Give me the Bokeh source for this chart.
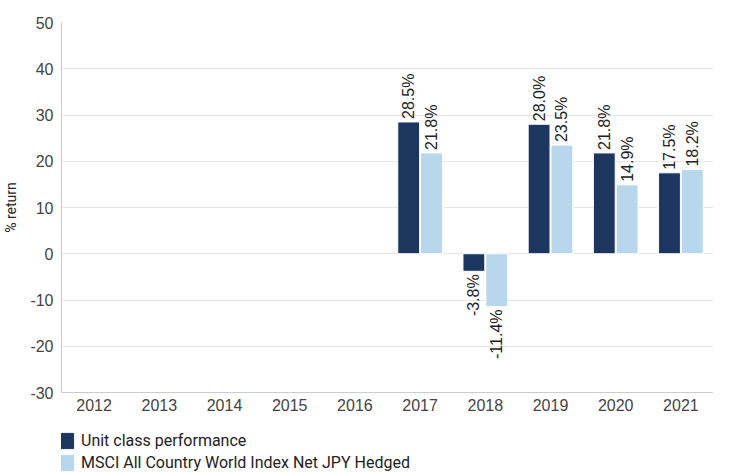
from bokeh.plotting import figure
from bokeh.layouts import column
from bokeh.models import ColumnDataSource, FactorRange, Legend, LegendItem, Range1d, PrintfTickFormatter
from bokeh.core.properties import value
from bokeh.transform import dodge
from bokeh.embed import file_html
from bokeh.resources import INLINE
from math import pi

years = ["2012", "2013", "2014", "2015", "2016", "2017", "2018", "2019", "2020", "2021"]
bar_years = ["2017", "2018", "2019", "2020", "2021"]
unit_class = [28.5, -3.8, 28.0, 21.8, 17.5]
msci = [21.8, -11.4, 23.5, 14.9, 18.2]
series_names = ["Unit class performance", "MSCI All Country World Index Net JPY Hedged"]
colors = ["#1c365f", "#b8d7ec"]
y_ticks = [-30, -20, -10, 0, 10, 20, 30, 40, 50]

def fmt(v):
    return f"{v:.1f}%"

src = ColumnDataSource(dict(year=bar_years, a=unit_class, b=msci))

def split(vals, positive):
    sel = [(y, v) for y, v in zip(bar_years, vals) if (v >= 0) == positive]
    return ColumnDataSource(dict(year=[s[0] for s in sel], v=[s[1] for s in sel],
                                 t=[fmt(s[1]) for s in sel]))

p = figure(x_range=FactorRange(*years), y_range=Range1d(-30, 50),
           width=713, height=426, output_backend="svg", toolbar_location=None,
           min_border_left=59, min_border_right=0, min_border_top=22, min_border_bottom=34)
p.outline_line_color = None
p.background_fill_color = "white"

off = 0.175
w = 0.335
ra = p.vbar(x=dodge("year", -off, range=p.x_range), top="a", bottom=0, width=w,
            source=src, fill_color=colors[0], line_color="white", line_width=1)
rb = p.vbar(x=dodge("year", off, range=p.x_range), top="b", bottom=0, width=w,
            source=src, fill_color=colors[1], line_color="white", line_width=1)

for vals, dx in [(unit_class, -off), (msci, off)]:
    for positive, align, yo in [(True, "left", -3), (False, "right", 3)]:
        p.text(x=dodge("year", dx, range=p.x_range), y="v", text="t", source=split(vals, positive),
               angle=pi / 2, text_align=align, text_baseline="middle",
               y_offset=yo, text_font_size="16px", text_color="#222222",
               text_font=value("Liberation Sans"))

p.xgrid.grid_line_color = None
p.ygrid.grid_line_color = "#e6e6e6"
p.ygrid.ticker = y_ticks
p.yaxis.ticker = y_ticks
p.yaxis.formatter = PrintfTickFormatter(format="%d")

for ax in (p.xaxis, p.yaxis):
    ax.axis_line_color = "#cccccc"
    ax.major_tick_line_color = None
    ax.minor_tick_line_color = None
    ax.major_tick_out = 0
    ax.major_tick_in = 0
    ax.minor_tick_out = 0
    ax.major_label_text_font = "Liberation Sans"
    ax.major_label_text_font_size = "16px"
    ax.major_label_text_color = "#444444"
p.xaxis.major_label_standoff = 6
p.yaxis.major_label_standoff = 8
p.yaxis.axis_label = "% return"
p.yaxis.axis_label_text_font = "Roboto"
p.yaxis.axis_label_text_font_style = "normal"
p.yaxis.axis_label_text_font_size = "14px"
p.yaxis.axis_label_text_color = "#222222"
p.yaxis.axis_label_standoff = 8

# legend figure below the chart
lf = figure(width=713, height=46, output_backend="svg", toolbar_location=None,
            x_range=Range1d(0, 1), y_range=Range1d(0, 1),
            x_axis_location=None, y_axis_location=None,
            min_border_left=0, min_border_right=0, min_border_top=0, min_border_bottom=0)
lf.grid.visible = False
lf.outline_line_color = None
la = lf.vbar(x=[5], top=[5], bottom=[4], width=0.1, fill_color=colors[0], line_color=colors[0])
lb = lf.vbar(x=[5], top=[5], bottom=[4], width=0.1, fill_color=colors[1], line_color=colors[1])
legend = Legend(items=[LegendItem(label=series_names[0], renderers=[la]),
                       LegendItem(label=series_names[1], renderers=[lb])],
                orientation="vertical", location=(-5, 0))
legend.glyph_width = 19
legend.glyph_height = 19
legend.label_height = 19
legend.spacing = 3
legend.padding = 0
legend.margin = 0
legend.label_standoff = 6
legend.label_text_font = "Roboto"
legend.label_text_font_size = "16px"
legend.label_text_color = "#222222"
legend.border_line_color = None
legend.background_fill_alpha = 0
lf.add_layout(legend, "center")

layout = column(p, lf, spacing=0)
open("out.html", "w").write(file_html(layout, INLINE))
